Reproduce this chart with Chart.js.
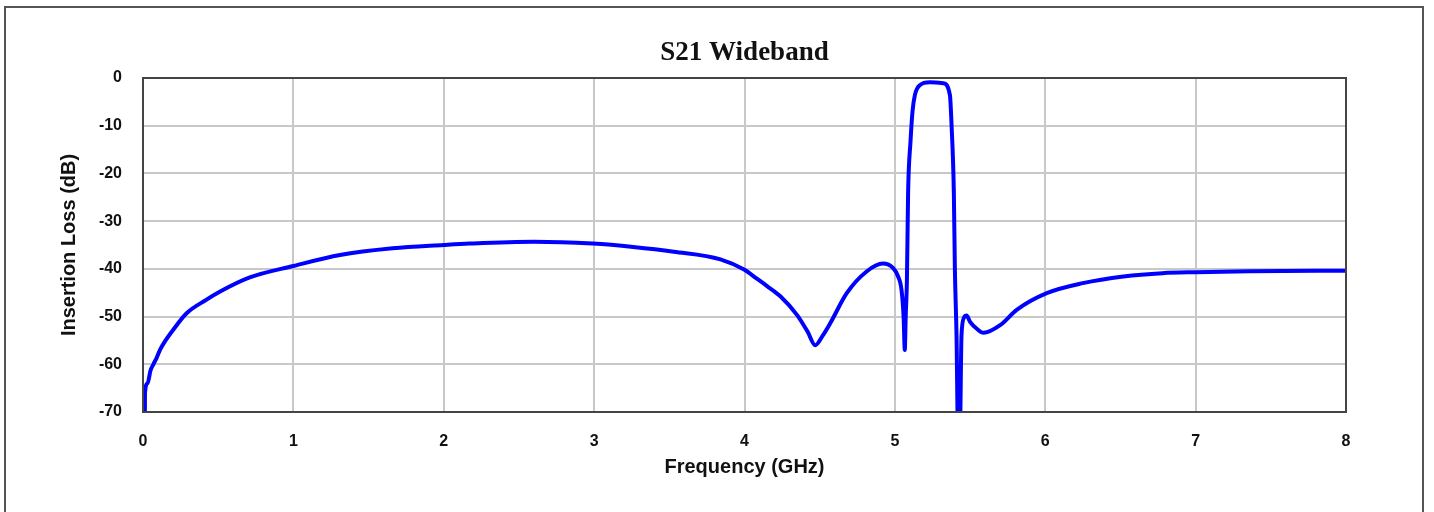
<!DOCTYPE html>
<html>
<head>
<meta charset="utf-8">
<script src="https://cdn.jsdelivr.net/npm/chart.js@4.4.1/dist/chart.umd.min.js"></script>
<style>
  html, body { margin: 0; padding: 0; background: #ffffff; }
  #wrap { width: 1434px; height: 512px; position: relative; }
</style>
</head>
<body>
<div id="wrap"><canvas id="c" width="1434" height="512"></canvas></div>
<script>
// ---- Data ----
const chartTitle = 'S21 Wideband';
const xAxisTitle = 'Frequency (GHz)';
const yAxisTitle = 'Insertion Loss (dB)';
const xTicks = [0, 1, 2, 3, 4, 5, 6, 7, 8];
const yTicks = [0, -10, -20, -30, -40, -50, -60, -70];

const freqGHz = [0.012, 0.013, 0.03, 0.05, 0.069, 0.09, 0.113, 0.15, 0.2, 0.29,
  0.42, 0.51, 0.71, 1.0, 1.31, 1.66, 2.0, 2.17, 2.6, 2.99,
  3.26, 3.53, 3.84, 4.0, 4.08, 4.15, 4.24, 4.35, 4.42, 4.47,
  4.52, 4.57, 4.68, 4.81, 4.92, 4.99, 5.02, 5.044, 5.058, 5.066,
  5.072, 5.08, 5.088, 5.104, 5.117, 5.133, 5.166, 5.233, 5.321, 5.366,
  5.377, 5.392, 5.399, 5.41, 5.42, 5.432, 5.443, 5.46, 5.477, 5.5,
  5.543, 5.59, 5.7, 5.81, 6.01, 6.25, 6.52, 6.78, 7.0, 7.36,
  8.0];
const lossDB = [-75, -66, -64, -61.3, -60, -58.7, -57, -55, -52.8, -49.3,
  -46.5, -44.8, -41.8, -39.4, -37.1, -35.7, -35.0, -34.7, -34.3, -34.7,
  -35.4, -36.4, -38.0, -40.2, -42.0, -43.6, -45.8, -49.7, -53.2, -56.0,
  -54, -51.4, -45.1, -40.6, -38.9, -39.9, -41.5, -44.4, -50, -57,
  -50, -42.5, -24, -13.3, -7.1, -3.6, -1.5, -0.9, -1.1, -3.6,
  -9.9, -23.8, -40, -54, -75, -75, -54, -50.2, -49.8, -51.1,
  -52.5, -53.4, -51.8, -48.6, -45.1, -43.0, -41.6, -40.9, -40.7, -40.5,
  -40.4];

const points = freqGHz.map((f, i) => ({ x: f, y: lossDB[i] }));

const framePlugin = {
  id: 'framePlugin',
  beforeDraw(chart) {
    const ctx = chart.ctx;
    ctx.save();
    ctx.strokeStyle = '#555555';
    ctx.lineWidth = 2;
    ctx.strokeRect(5, 7, 1418, 600);
    ctx.restore();
  },
  afterDraw(chart) {
    const ctx = chart.ctx;
    const a = chart.chartArea;
    ctx.save();
    ctx.strokeStyle = '#444444';
    ctx.lineWidth = 2;
    ctx.strokeRect(a.left, a.top, a.right - a.left, a.bottom - a.top);
    ctx.fillStyle = '#111111';
    ctx.font = 'bold 27px "Liberation Serif", "Times New Roman", serif';
    ctx.textAlign = 'center';
    ctx.textBaseline = 'middle';
    ctx.fillText(chartTitle, (a.left + a.right) / 2, 53);
    ctx.restore();
  }
};

new Chart(document.getElementById('c'), {
  type: 'line',
  data: {
    datasets: [{
      data: points,
      borderColor: '#0000ff',
      borderWidth: 4,
      pointRadius: 0,
      cubicInterpolationMode: 'monotone',
      fill: false
    }]
  },
  options: {
    responsive: false,
    animation: false,
    devicePixelRatio: 1,
    layout: { padding: { left: 0, right: 88, top: 78, bottom: 0 } },
    plugins: {
      legend: { display: false },
      title: { display: false },
      tooltip: { enabled: false }
    },
    scales: {
      x: {
        type: 'linear',
        min: 0, max: 8,
        afterBuildTicks(scale) { scale.ticks = xTicks.map(v => ({ value: v })); },
        afterFit(scale) { scale.height = 100; },
        grid: { color: '#c8c8c8', lineWidth: 2, drawTicks: false },
        border: { display: false },
        ticks: {
          padding: 20,
          color: '#111111',
          font: { family: '"Liberation Sans", Arial, sans-serif', size: 16, weight: 'bold' },
          callback: v => String(v)
        },
        title: {
          display: true,
          text: xAxisTitle,
          color: '#111111',
          font: { family: '"Liberation Sans", Arial, sans-serif', size: 20, weight: 'bold' },
          padding: { top: 0, bottom: 33 }
        }
      },
      y: {
        type: 'linear',
        min: -70, max: 0,
        afterBuildTicks(scale) { scale.ticks = yTicks.map(v => ({ value: v })); },
        afterFit(scale) { scale.width = 143; },
        grid: { color: '#c8c8c8', lineWidth: 2, drawTicks: false },
        border: { display: false },
        ticks: {
          padding: 21,
          color: '#111111',
          font: { family: '"Liberation Sans", Arial, sans-serif', size: 16, weight: 'bold' },
          callback: v => String(v)
        },
        title: {
          display: true,
          text: yAxisTitle,
          color: '#111111',
          font: { family: '"Liberation Sans", Arial, sans-serif', size: 20, weight: 'bold' },
          padding: { top: 57, bottom: 0 }
        }
      }
    }
  },
  plugins: [framePlugin]
});
</script>
</body>
</html>
